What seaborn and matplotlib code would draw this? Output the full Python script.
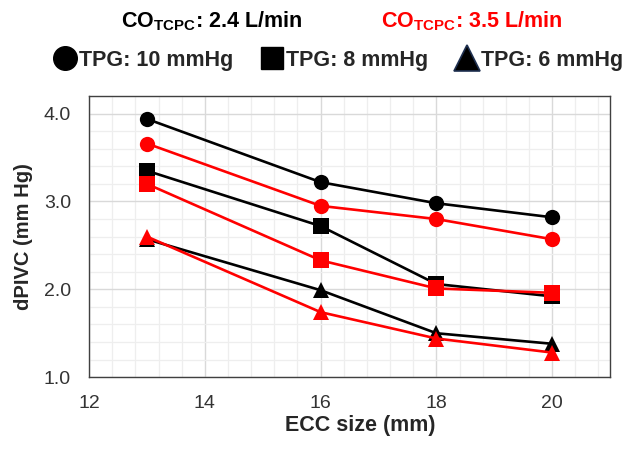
import matplotlib
matplotlib.use("Agg")
import matplotlib.pyplot as plt
from matplotlib.lines import Line2D
from matplotlib.ticker import MultipleLocator
import seaborn as sns
import pandas as pd

# ECC sizes (mm)
ecc = [13, 16, 18, 20]

# dPIVC (mm Hg), CO_TCPC = 2.4 L/min (black)
low_tpg10 = [3.94, 3.22, 2.98, 2.82]
low_tpg8 = [3.35, 2.72, 2.06, 1.92]
low_tpg6 = [2.57, 1.99, 1.50, 1.38]

# dPIVC (mm Hg), CO_TCPC = 3.5 L/min (red)
high_tpg10 = [3.66, 2.95, 2.80, 2.57]
high_tpg8 = [3.20, 2.33, 2.01, 1.96]
high_tpg6 = [2.60, 1.74, 1.44, 1.28]

rows = []
for co, series in [("2.4", [low_tpg10, low_tpg8, low_tpg6]),
                   ("3.5", [high_tpg10, high_tpg8, high_tpg6])]:
    for tpg, vals in zip(["10", "8", "6"], series):
        for x, y in zip(ecc, vals):
            rows.append({"ECC": x, "dPIVC": y, "CO": co, "TPG": tpg})
df = pd.DataFrame(rows)

sns.set_style("white")
plt.rcParams["font.family"] = ["Liberation Sans", "DejaVu Sans"]
plt.rcParams["mathtext.fontset"] = "custom"
plt.rcParams["mathtext.rm"] = "Liberation Sans:bold"
plt.rcParams["mathtext.it"] = "Liberation Sans:bold"

fig = plt.figure(figsize=(6.27, 4.49), dpi=100)
ax = fig.add_axes([0.142, 0.160, 0.831, 0.626])

sns.lineplot(data=df, x="ECC", y="dPIVC", hue="CO", style="TPG",
             hue_order=["2.4", "3.5"], style_order=["10", "8", "6"],
             palette={"2.4": "black", "3.5": "#ff0000"},
             markers={"10": "o", "8": "s", "6": "^"}, dashes=False,
             markersize=11, markeredgewidth=0, linewidth=1.9,
             legend=False, ax=ax)

ax.set_xlim(12, 21)
ax.set_ylim(1.0, 4.2)
ax.xaxis.set_minor_locator(MultipleLocator(0.4))
ax.yaxis.set_minor_locator(MultipleLocator(0.2))
ax.set_xticks([12, 14, 16, 18, 20])
ax.set_yticks([1.0, 2.0, 3.0, 4.0])
ax.set_yticklabels(["1.0", "2.0", "3.0", "4.0"])
ax.grid(which="major", color="#d9d9d9", linewidth=1.0)
ax.grid(which="minor", color="#eeeeee", linewidth=0.9)
ax.set_axisbelow(True)
ax.tick_params(which="both", length=0, labelsize=14, colors="#333333")
ax.tick_params(axis="y", pad=13)
ax.tick_params(axis="x", pad=13)
for s in ax.spines.values():
    s.set_color("#404040")
    s.set_linewidth(1.0)

ax.set_xlabel("ECC size (mm)", fontsize=15.5, fontweight="bold")
ax.set_ylabel("dPIVC (mm Hg)", fontsize=14.5, fontweight="bold")
ax.xaxis.set_label_coords(0.52, -0.135)
ax.yaxis.set_label_coords(-0.107, 0.5)

fig.text(0.338, 0.952, r"CO$_{\rm TCPC}$: 2.4 L/min", ha="center", va="center",
         fontsize=15.5, fontweight="bold", color="black")
fig.text(0.752, 0.952, r"CO$_{\rm TCPC}$: 3.5 L/min", ha="center", va="center",
         fontsize=15.5, fontweight="bold", color="#ff0000")

handles = [
    Line2D([], [], marker="o", color="black", linestyle="none", markersize=17),
    Line2D([], [], marker="s", color="black", linestyle="none", markersize=16),
    Line2D([], [], marker="^", markerfacecolor="black", markeredgecolor="#1f3050",
           markeredgewidth=1.2, linestyle="none", markersize=19),
]
labels = ["TPG: 10 mmHg", "TPG: 8 mmHg", "TPG: 6 mmHg"]
fig.legend(handles, labels, loc="center", bbox_to_anchor=(0.539, 0.866), ncol=3,
           frameon=False, handletextpad=0.05, columnspacing=1.2, handlelength=1.2,
           prop={"weight": "bold", "size": 15.5})

fig.savefig("out.png", dpi=100)
